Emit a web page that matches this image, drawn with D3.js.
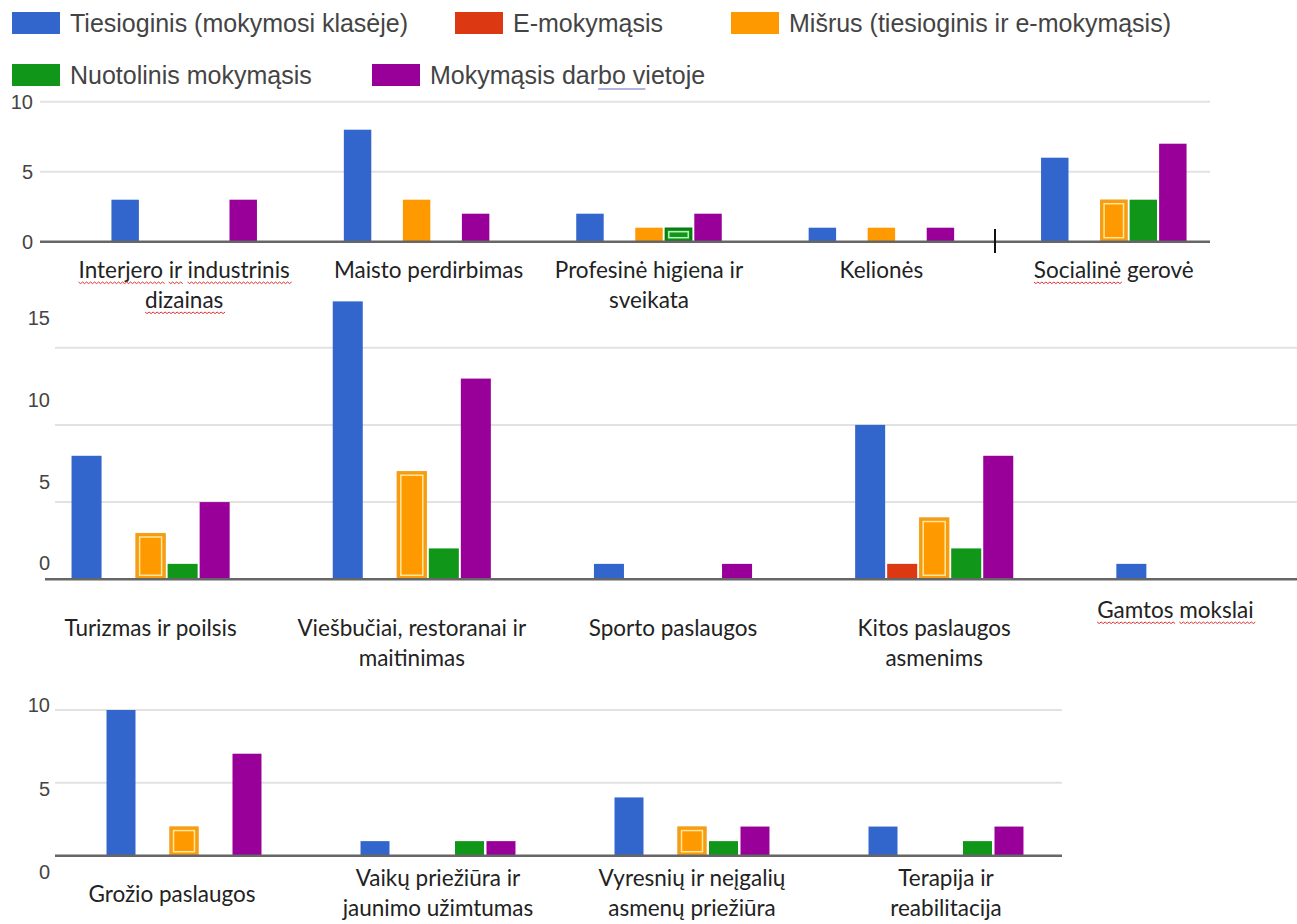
<!DOCTYPE html>
<html>
<head>
<meta charset="utf-8">
<script src="https://cdn.jsdelivr.net/npm/d3@7"></script>
<style>
  body { margin: 0; background: #fff; }
  svg { display: block; }
</style>
</head>
<body>
<div id="chart-area"></div>
<script>
// Mokymosi formos pagal sritį - trys sugrupuotų stulpelių grafikai
const W = 1297, H = 924

const SERIES = ["Tiesioginis (mokymosi klasėje)", "E-mokymąsis", "Mišrus (tiesioginis ir e-mokymąsis)",
                "Nuotolinis mokymąsis", "Mokymąsis darbo vietoje"]
const COLORS = ["#3366cc", "#dc3912", "#ff9900", "#109618", "#990099"]

// panel 1
const cats1 = [["Interjero ir industrinis", "dizainas"], ["Maisto perdirbimas"], ["Profesinė higiena ir", "sveikata"],
               ["Kelionės"], ["Socialinė gerovė"]]
const values1 = [[3, 0, 0, 0, 3], [8, 0, 3, 0, 2], [2, 0, 1, 1, 2], [1, 0, 1, 0, 1], [6, 0, 3, 3, 7]]
const ticks1 = [0, 5, 10]

// panel 2
const cats2 = [["Turizmas ir poilsis"], ["Viešbučiai, restoranai ir", "maitinimas"], ["Sporto paslaugos"],
               ["Kitos paslaugos", "asmenims"], ["Gamtos mokslai"]]
const values2 = [[8, 0, 3, 1, 5], [18, 0, 7, 2, 13], [1, 0, 0, 0, 1], [10, 1, 4, 2, 8], [1, 0, 0, 0, 0]]
const ticks2 = [0, 5, 10, 15]

// panel 3
const cats3 = [["Grožio paslaugos"], ["Vaikų priežiūra ir", "jaunimo užimtumas"], ["Vyresnių ir neįgalių", "asmenų priežiūra"],
               ["Terapija ir", "reabilitacija"]]
const values3 = [[10, 0, 2, 0, 7], [1, 0, 0, 1, 1], [4, 0, 2, 1, 2], [2, 0, 0, 1, 2]]
const ticks3 = [0, 5, 10]

// bars that show the selection outline in the screenshot (category, series)
const selected = [["Profesinė higiena ir", 3], ["Socialinė gerovė", 2], ["Turizmas ir poilsis", 2],
                  ["Viešbučiai, restoranai ir", 2], ["Kitos paslaugos", 2], ["Grožio paslaugos", 2],
                  ["Vyresnių ir neįgalių", 2]]
// phrases with the spell-check squiggle
const squiggly = ["Interjero ir industrinis", "dizainas", "Socialinė", "Gamtos mokslai"]

const svg = d3.select('#chart-area')
    .append('svg')
    .attr("width", W)
    .attr("height", H)

// legend
const legendItems = [
    { s: 0, x: 12, y: 23 }, { s: 1, x: 455, y: 23 }, { s: 2, x: 731, y: 23 },
    { s: 3, x: 12, y: 75 }, { s: 4, x: 372, y: 75 }
]
const lg = svg.append("g")
legendItems.forEach(it => {
    lg.append("rect")
        .attr("x", it.x).attr("y", it.y - 11)
        .attr("width", 48).attr("height", 22)
        .attr("fill", COLORS[it.s])
    const t = lg.append("text")
        .attr("x", it.x + 58).attr("y", it.y)
        .attr("dy", "0.36em")
        .attr("font-family", "Liberation Sans, Arial, sans-serif")
        .attr("font-size", 25)
        .attr("fill", "#444")
        .text(SERIES[it.s])
    // little blue underline under "bo v" of the last item
    if (it.s === 4) {
        const node = t.node(), txt = SERIES[4], i = txt.indexOf("bo v")
        const ux = it.x + 58 + node.getSubStringLength(0, i)
        lg.append("line")
            .attr("x1", ux).attr("x2", ux + node.getSubStringLength(i, 4))
            .attr("y1", it.y + 14).attr("y2", it.y + 14)
            .attr("stroke", "#9a9ad8").attr("stroke-width", 1.5)
    }
})

const panels = [
    { cats: cats1, values: values1, ticks: ticks1, max: 10, y0: 241.7, y1: 101.7, lab: [241.7, 101.7],
      xr: [68, 1230], pad: 0.365, bpad: 0.07, grid: [40, 1210], base: [40, 1210], tickX: 33,
      labY: 270, labMode: "top" },
    { cats: cats2, values: values2, ticks: ticks2, max: 15, y0: 579.3, y1: 347.7, lab: [563, 318],
      xr: [20, 1326], pad: 0.387, bpad: 0.0625, grid: [55, 1297], base: [45, 1297], tickX: 50,
      labY: 628, labMode: "top" },
    { cats: cats3, values: values3, ticks: ticks3, max: 10, y0: 855.7, y1: 710, lab: [872, 705],
      xr: [57, 1073], pad: 0.38, bpad: 0.08, grid: [55, 1062], base: [55, 1062], tickX: 50,
      labY: 894, labMode: "center" }
]

const labelNudge = { "Gamtos mokslai": { dx: -20, dy: -18 }, "Grožio paslaugos": { dx: -12, dy: 0 },
                     "Maisto perdirbimas": { dx: 12, dy: 0 } }

function squiggle(x1, x2, y) {
    let d = `M${x1},${y}`
    for (let x = x1, k = 0; x < x2; x += 2, k++) d += `L${x + 2},${y + (k % 2 ? 0 : 1.6)}`
    return d
}

panels.forEach(p => {
    const g = svg.append("g")
    const y = d3.scaleLinear().domain([0, p.max]).range([p.y0, p.y1])
    const yLab = d3.scaleLinear().domain([0, p.max]).range(p.lab)
    const x0 = d3.scaleBand().domain(p.cats.map(c => c[0])).range(p.xr)
        .paddingInner(p.pad).paddingOuter(p.pad / 2)
    const x1 = d3.scaleBand().domain(d3.range(SERIES.length)).range([0, x0.bandwidth()])
        .paddingInner(p.bpad).paddingOuter(p.bpad / 2)

    // gridlines
    g.selectAll(".grid").data(p.ticks.filter(t => t > 0)).enter()
        .append("line")
        .attr("x1", p.grid[0]).attr("x2", p.grid[1])
        .attr("y1", d => y(d)).attr("y2", d => y(d))
        .attr("stroke", "#e2e2e2").attr("stroke-width", 2)

    // tick labels
    g.selectAll(".tick").data(p.ticks).enter()
        .append("text")
        .attr("x", p.tickX).attr("y", d => yLab(d))
        .attr("dy", "0.36em")
        .attr("text-anchor", "end")
        .attr("font-family", "Liberation Sans, Arial, sans-serif")
        .attr("font-size", 20)
        .attr("fill", "#444")
        .text(d => d)

    // bars
    const groups = g.selectAll(".grp").data(p.cats.map((c, i) => ({ cat: c, vals: p.values[i] }))).enter()
        .append("g")
        .attr("transform", d => `translate(${x0(d.cat[0])},0)`)
    groups.selectAll("rect").data(d => d.vals.map((v, s) => ({ v, s, cat: d.cat[0] }))).enter()
        .append("rect")
        .attr("x", d => x1(d.s))
        .attr("y", d => y(d.v))
        .attr("width", x1.bandwidth())
        .attr("height", d => y(0) - y(d.v))
        .attr("fill", d => COLORS[d.s])

    // selection outline
    const sel = d => d.vals.map((v, s) => ({ v, s, cat: d.cat[0] }))
        .filter(b => selected.some(k => k[0] === b.cat && k[1] === b.s))
    groups.selectAll(".sel").data(sel).enter()
        .append("rect")
        .attr("x", d => x1(d.s) + 1)
        .attr("y", d => y(d.v) + 1)
        .attr("width", x1.bandwidth() - 2)
        .attr("height", d => y(0) - y(d.v) - 2)
        .attr("fill", "none")
        .attr("stroke", d => d.s === 2 ? "#f0a020" : "#0a7a12")
        .attr("stroke-width", 2)
    groups.selectAll(".sel2").data(sel).enter()
        .append("rect")
        .attr("x", d => x1(d.s) + 4)
        .attr("y", d => y(d.v) + 4)
        .attr("width", x1.bandwidth() - 8)
        .attr("height", d => Math.max(2, y(0) - y(d.v) - 8))
        .attr("fill", "none")
        .attr("stroke", d => d.s === 2 ? "#ffe7a0" : "#b8f0b8")
        .attr("stroke-width", 1.5)

    // baseline
    g.append("line")
        .attr("x1", p.base[0]).attr("x2", p.base[1])
        .attr("y1", y(0)).attr("y2", y(0))
        .attr("stroke", "#666").attr("stroke-width", 2.5)

    // category labels
    p.cats.forEach(c => {
        const nudge = labelNudge[c[0]] || { dx: 0, dy: 0 }
        const cx = x0(c[0]) + x0.bandwidth() / 2 + nudge.dx
        const top = p.labMode === "center" ? p.labY - (c.length - 1) * 15.5 : p.labY
        c.forEach((line, li) => {
            const ty = top + li * 30 + nudge.dy
            const t = g.append("text")
                .attr("x", cx).attr("y", ty)
                .attr("dy", "0.35em")
                .attr("text-anchor", "middle")
                .attr("font-family", "Lato, Carlito, sans-serif")
                .attr("font-size", 22.5)
                .attr("fill", "#222")
                .text(line)
            // spell-check squiggles, word by word
            const node = t.node()
            const bb = node.getBBox()
            squiggly.filter(ph => line.includes(ph)).forEach(ph => {
                let pos = line.indexOf(ph)
                ph.split(" ").forEach(word => {
                    const start = line.indexOf(word, pos)
                    pos = start + word.length
                    const wx = bb.x + (start > 0 ? node.getSubStringLength(0, start) : 0)
                    const ww = node.getSubStringLength(start, word.length)
                    g.append("path")
                        .attr("d", squiggle(wx, wx + ww, ty + 12))
                        .attr("fill", "none")
                        .attr("stroke", "#e03030")
                        .attr("stroke-width", 1)
                })
            })
        })
    })
})

// the stray tick mark on the first panel's baseline
svg.append("line")
    .attr("x1", 995).attr("x2", 995).attr("y1", 229).attr("y2", 253)
    .attr("stroke", "#111").attr("stroke-width", 2)
</script>
</body>
</html>
